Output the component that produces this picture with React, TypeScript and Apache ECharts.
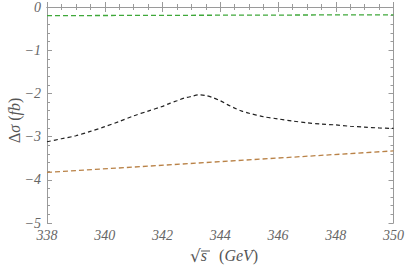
import React, { useEffect, useRef } from "react";
import * as echarts from "echarts";

const xBlack = [338, 338.5, 339, 339.5, 340, 340.5, 341, 341.5, 342, 342.25, 342.5, 342.75, 343, 343.25, 343.5, 343.75, 344, 344.25, 344.5, 344.75, 345, 345.5, 346, 346.5, 347, 347.5, 348, 348.5, 349, 349.5, 350];
const yBlack = [-3.12, -3.05, -2.98, -2.88, -2.77, -2.65, -2.52, -2.41, -2.30, -2.23, -2.17, -2.11, -2.07, -2.035, -2.05, -2.10, -2.17, -2.26, -2.34, -2.41, -2.46, -2.54, -2.59, -2.64, -2.68, -2.71, -2.73, -2.76, -2.78, -2.80, -2.81];
const xGreen = [338, 344, 350];
const yGreen = [-0.2, -0.19, -0.18];
const xOrange = [338, 344, 350];
const yOrange = [-3.83, -3.58, -3.33];
const xTicks = [338, 340, 342, 344, 346, 348, 350];
const yTicks = [0, -1, -2, -3, -4, -5];

const pairs = (xs: number[], ys: number[]) => xs.map((x, i) => [x, ys[i]]);
const SERIF = "Liberation Serif";

export default function App() {
  const ref = useRef<HTMLDivElement>(null);
  useEffect(() => {
    const chart = echarts.init(ref.current!, null, { renderer: "svg" });
    const axisLineC = "#9a9a9a";
    const labelStyle = { color: "#666", fontFamily: SERIF, fontStyle: "italic", fontSize: 14 };
    const baseX = {
      type: "value", min: xTicks[0], max: xTicks[xTicks.length - 1], interval: 2,
      axisLine: { show: true, lineStyle: { color: axisLineC, width: 1 } },
      axisTick: { show: true, inside: true, length: 5, lineStyle: { color: axisLineC } },
      minorTick: { show: true, splitNumber: 4, length: 3, lineStyle: { color: axisLineC } },
      splitLine: { show: false },
    };
    const baseY = {
      type: "value", min: yTicks[yTicks.length - 1], max: yTicks[0], interval: 1,
      axisLine: { show: true, lineStyle: { color: axisLineC, width: 1 } },
      axisTick: { show: true, inside: true, length: 5, lineStyle: { color: axisLineC } },
      minorTick: { show: true, splitNumber: 5, length: 3, lineStyle: { color: axisLineC } },
      splitLine: { show: false },
    };
    chart.setOption({
      animation: false,
      textStyle: { fontFamily: SERIF },
      grid: { left: 47, right: 10, top: 7, bottom: 48 },
      xAxis: [
        { ...baseX, position: "bottom", axisLabel: { ...labelStyle, margin: 5, formatter: (v: number) => String(v) } },
        { ...baseX, position: "top", axisLabel: { show: false } },
      ],
      yAxis: [
        { ...baseY, position: "left", axisLabel: { ...labelStyle, margin: 6, formatter: (v: number) => (v < 0 ? "\u2212" + Math.abs(v) : String(v)) } },
        { ...baseY, position: "right", axisLabel: { show: false } },
      ],
      series: [
        { type: "line", data: pairs(xGreen, yGreen), showSymbol: false, lineStyle: { color: "#3fa83a", width: 1.3, type: [5, 3] } },
        { type: "line", data: pairs(xOrange, yOrange), showSymbol: false, lineStyle: { color: "#b98247", width: 1.3, type: [5, 3] } },
        { type: "line", data: pairs(xBlack, yBlack), smooth: 0.3, showSymbol: false, lineStyle: { color: "#222", width: 1.2, type: [4, 3] } },
      ],
      graphic: [
        {
          type: "text", left: 190, top: 247,
          style: {
            text: "{r|\u221A}{i|s}{n|   (}{i|GeV}{n|)}",
            rich: {
              r: { fontFamily: "DejaVu Serif", fontSize: 17, fill: "#555" },
              i: { fontFamily: SERIF, fontStyle: "italic", fontSize: 16, fill: "#555" },
              n: { fontFamily: SERIF, fontSize: 16, fill: "#555" },
            },
          },
        },
        {
          type: "line", shape: { x1: 201, y1: 251, x2: 210, y2: 251 }, style: { stroke: "#555", lineWidth: 1 },
        },
        {
          type: "text", x: 6, y: 143, rotation: Math.PI / 2,
          style: {
            text: "{n|\u0394}{i|\u03C3}{n| (}{i|fb}{n|)}",
            rich: {
              i: { fontFamily: SERIF, fontStyle: "italic", fontSize: 16, fill: "#555" },
              n: { fontFamily: SERIF, fontSize: 16, fill: "#555" },
            },
          },
        },
      ],
    });
    return () => chart.dispose();
  }, []);
  return <div ref={ref} style={{ width: 407, height: 271, position: "absolute", left: 0, top: 0 }} />;
}
